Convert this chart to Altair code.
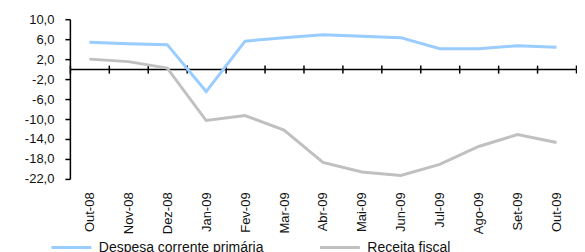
import altair as alt
import pandas as pd

months = ["Out-08", "Nov-08", "Dez-08", "Jan-09", "Fev-09", "Mar-09", "Abr-09",
          "Mai-09", "Jun-09", "Jul-09", "Ago-09", "Set-09", "Out-09"]
despesa = [5.4, 5.1, 4.9, -4.5, 5.6, 6.3, 6.9, 6.6, 6.3, 4.1, 4.1, 4.7, 4.4]
receita = [2.0, 1.5, 0.2, -10.3, -9.3, -12.2, -18.7, -20.6, -21.3, -19.1, -15.5, -13.1, -14.7]
series_names = ["Despesa corrente primária", "Receita fiscal"]
series_colors = ["#99CCFF", "#C0C0C0"]
y_ticks = [10, 6, 2, -2, -6, -10, -14, -18, -22]

rows = []
for m, d, r in zip(months, despesa, receita):
    rows.append({"month": m, "serie": series_names[0], "value": d})
    rows.append({"month": m, "serie": series_names[1], "value": r})
df = pd.DataFrame(rows)

FONT = "Liberation Sans"
W, H = 507, 160

xscale = alt.Scale(type="band", paddingInner=0, paddingOuter=0, domain=months)
yscale = alt.Scale(domain=[-22, 10], nice=False, zero=False)

yaxis = alt.Axis(
    values=y_ticks, grid=False, domainColor="black", domainWidth=1.5,
    tickColor="black", tickWidth=1.5, tickSize=5, labelPadding=11,
    labelFont=FONT, labelFontSize=13, labelColor="#111",
    labelExpr="(datum.value < 0 ? '-' : '') + replace(format(abs(datum.value), '.1f'), '.', ',')",
    title=None,
)

lines = alt.Chart(df).mark_line(strokeWidth=3).encode(
    x=alt.X("month:N", sort=months, scale=xscale, bandPosition=0.5, title=None,
            axis=alt.Axis(orient="bottom", offset=-110, domainColor="black", domainWidth=1.5,
                          tickColor="black", tickWidth=1.5, tickSize=4, tickBand="extent",
                          labelAngle=-90, labelPadding=119, labelFont=FONT, labelFontSize=13,
                          labelColor="#111", labelOverlap=False, grid=False)),
    y=alt.Y("value:Q", scale=yscale, axis=yaxis),
    color=alt.Color("serie:N", scale=alt.Scale(domain=series_names, range=series_colors),
                    legend=alt.Legend(orient="none", legendX=-20, legendY=207,
                                      direction="horizontal", symbolType="stroke",
                                      symbolSize=1600, symbolStrokeWidth=3,
                                      labelFont=FONT, labelFontSize=14, labelColor="#111",
                                      labelLimit=400,
                                      labelOffset=6, columnPadding=50, padding=0,
                                      title=None)),
    detail="serie:N",
)

upticks = alt.Chart(df).mark_line(opacity=0).encode(
    x=alt.X("month:N", sort=months, scale=xscale, bandPosition=0.5, title=None,
            axis=alt.Axis(orient="top", offset=-50, domain=False, tickColor="black",
                          tickWidth=1.5, tickSize=4, tickBand="extent", labels=False,
                          grid=False)),
    y=alt.Y("value:Q", scale=yscale, axis=yaxis),
    detail="serie:N",
)

chart = alt.layer(lines, upticks).resolve_axis(x="independent").properties(
    width=W, height=H,
    autosize=alt.AutoSizeParams(type="none"),
    padding={"left": 62, "top": 11, "right": 1, "bottom": 75},
).configure_view(stroke=None)

chart.save("out.html", embed_options={"renderer": "svg", "actions": False})
